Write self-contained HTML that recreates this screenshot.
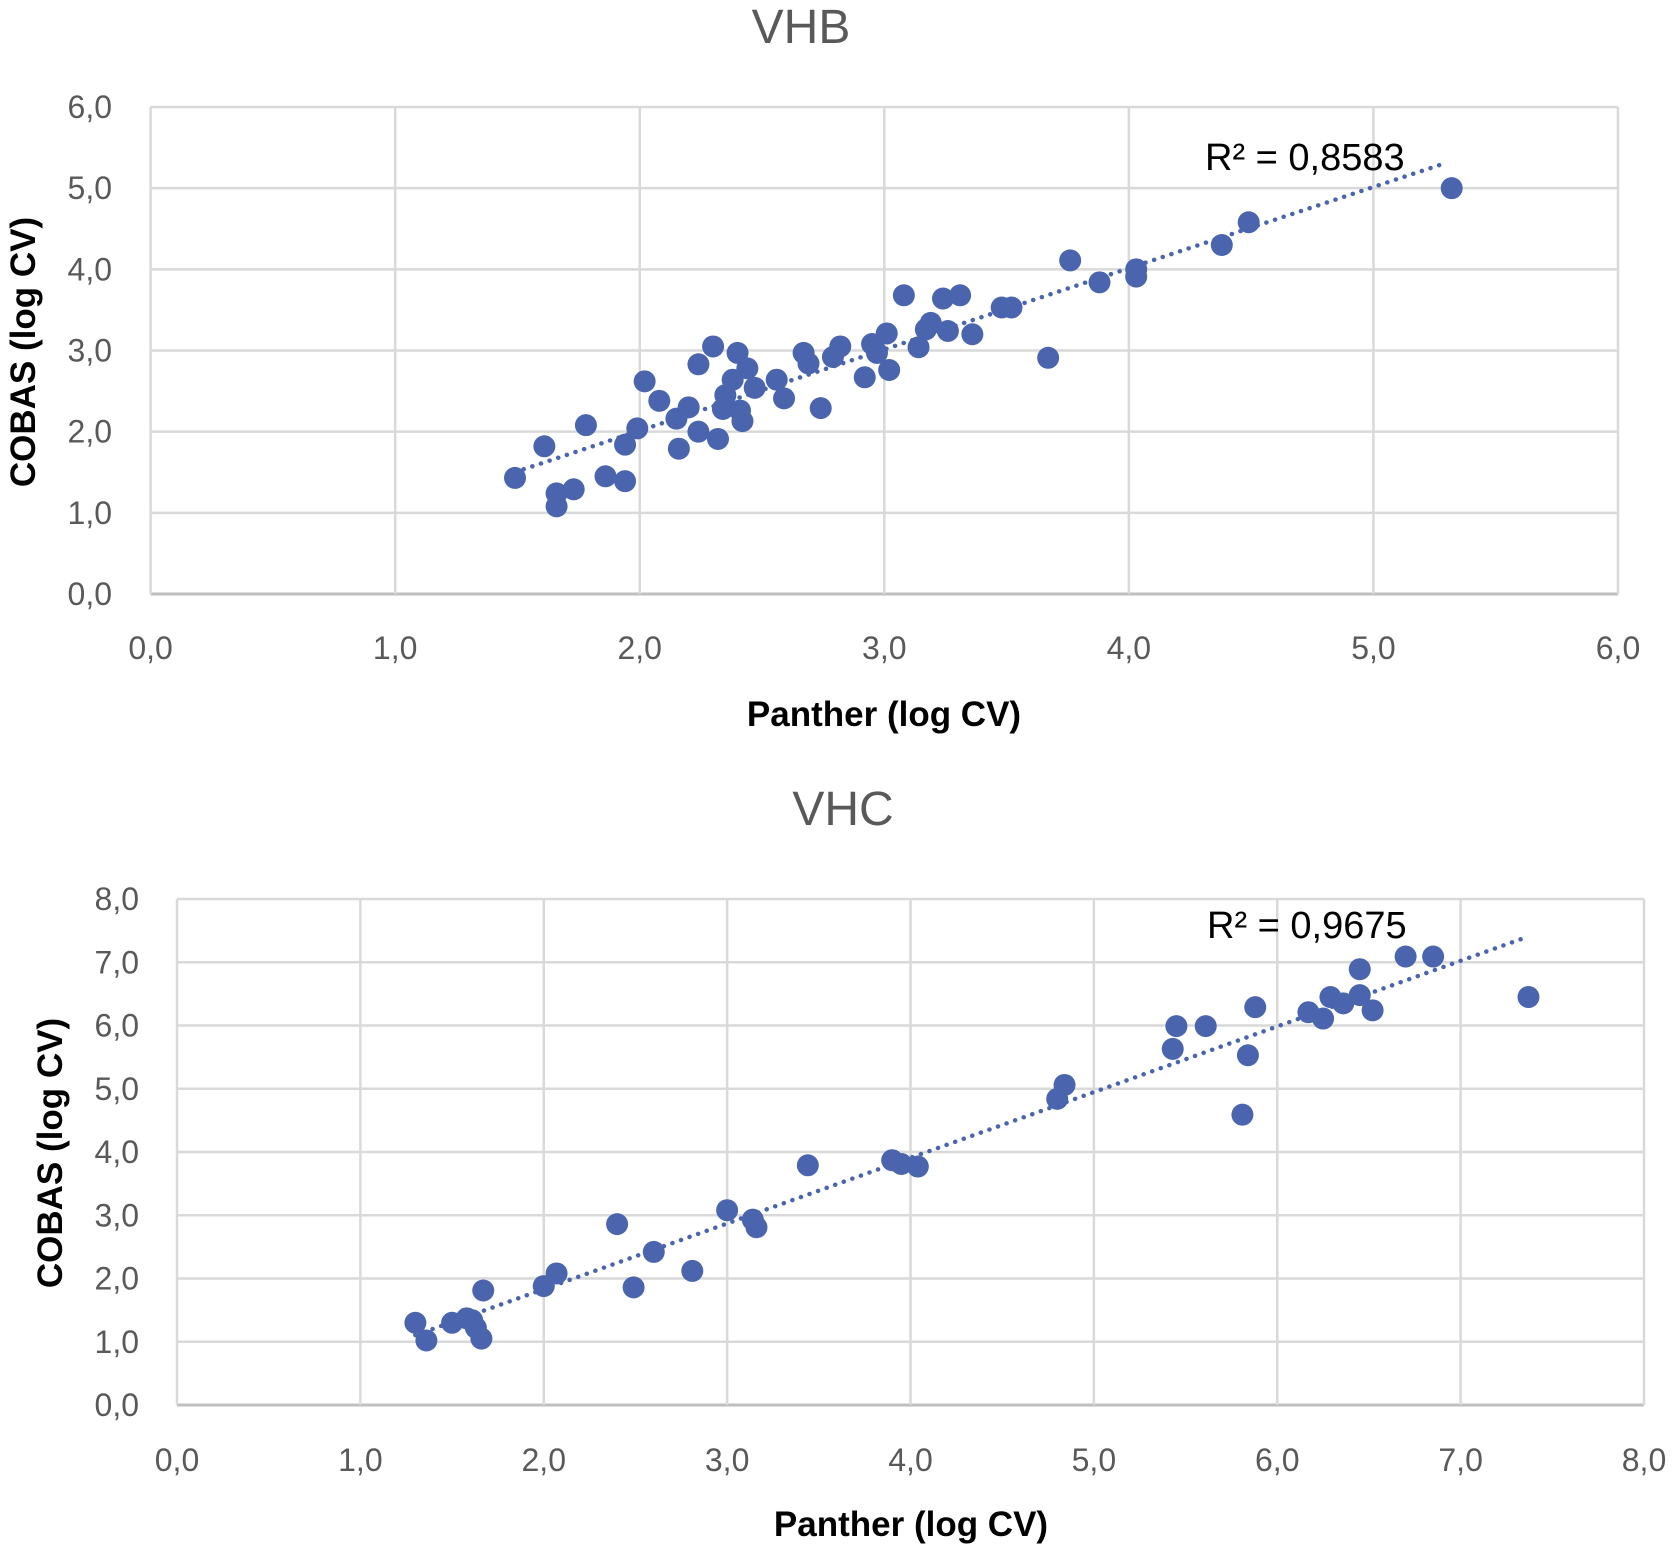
<!DOCTYPE html>
<html><head><meta charset="utf-8"><style>
html,body{margin:0;padding:0;background:#fff}
svg{display:block;font-family:"Liberation Sans","DejaVu Sans",sans-serif}
</style></head><body>
<svg id="svg" width="1675" height="1551" viewBox="0 0 1675 1551">
<text x="801" y="43" font-size="48" fill="#595959" text-anchor="middle">VHB</text>
<text x="843" y="825" font-size="48" fill="#595959" text-anchor="middle">VHC</text>
<text x="884" y="726" font-size="35" font-weight="bold" fill="#000" text-anchor="middle">Panther (log CV)</text>
<text x="911" y="1536" font-size="35" font-weight="bold" fill="#000" text-anchor="middle">Panther (log CV)</text>
<text transform="translate(35,352) rotate(-90)" font-size="35" font-weight="bold" fill="#000" text-anchor="middle">COBAS (log CV)</text>
<text transform="translate(62,1153) rotate(-90)" font-size="35" font-weight="bold" fill="#000" text-anchor="middle">COBAS (log CV)</text>
<g id="c1"></g>
<g id="c2"></g>
</svg>
<script>
const vhbX=[1.49,1.61,1.66,1.66,1.73,1.78,1.86,1.94,1.94,1.99,2.02,2.08,2.16,2.15,2.20,2.24,2.24,2.30,2.32,2.34,2.35,2.38,2.40,2.41,2.42,2.44,2.47,2.56,2.59,2.67,2.69,2.74,2.79,2.82,2.92,2.95,2.97,3.01,3.02,3.08,3.14,3.17,3.19,3.24,3.26,3.31,3.36,3.48,3.52,3.67,3.76,3.88,4.03,4.03,4.38,4.49,5.32];
const vhbY=[1.43,1.82,1.24,1.08,1.29,2.08,1.45,1.39,1.84,2.04,2.62,2.38,1.79,2.16,2.30,2.0,2.83,3.05,1.91,2.28,2.45,2.64,2.97,2.26,2.13,2.78,2.54,2.64,2.41,2.97,2.84,2.29,2.92,3.05,2.67,3.08,2.97,3.21,2.76,3.68,3.04,3.26,3.34,3.64,3.24,3.68,3.20,3.53,3.53,2.91,4.11,3.84,4.0,3.91,4.30,4.58,5.0];
const vhcX=[1.30,1.36,1.50,1.58,1.61,1.63,1.66,1.67,2.0,2.07,2.40,2.49,2.60,2.81,3.0,3.14,3.16,3.44,3.90,3.95,4.04,4.80,4.84,5.43,5.45,5.61,5.81,5.84,5.88,6.17,6.25,6.29,6.36,6.45,6.45,6.52,6.70,6.85,7.37];
const vhcY=[1.30,1.02,1.30,1.37,1.34,1.22,1.05,1.81,1.88,2.08,2.86,1.86,2.42,2.12,3.08,2.93,2.81,3.79,3.87,3.81,3.77,4.84,5.06,5.63,5.99,5.99,4.59,5.53,6.29,6.21,6.11,6.45,6.35,6.89,6.48,6.24,7.09,7.09,6.45];
const vhbTicks=["0,0","1,0","2,0","3,0","4,0","5,0","6,0"];
const vhcTicks=["0,0","1,0","2,0","3,0","4,0","5,0","6,0","7,0","8,0"];
const vhbR2="R² = 0,8583", vhcR2="R² = 0,9675";
const NS="http://www.w3.org/2000/svg";
function mk(g,t,a){const e=document.createElementNS(NS,t);for(const k in a)e.setAttribute(k,a[k]);g.appendChild(e);return e;}
function draw(gid,xs,ys,ticks,r2,o){
 const g=document.getElementById(gid);const n=ticks.length-1;
 const sx=v=>o.x0+(o.x1-o.x0)*v/n, sy=v=>o.y0-(o.y0-o.y1)*v/n;
 for(let i=0;i<=n;i++){
  const gl=mk(g,'line',{x1:sx(0),x2:sx(n),y1:sy(i),y2:sy(i),stroke:i==0?'#bfbfbf':'#d9d9d9','stroke-width':i==0?3:2.5});
  
  
  const vl=mk(g,'line',{x1:sx(i),x2:sx(i),y1:sy(0),y2:sy(n),stroke:'#d9d9d9','stroke-width':2.5});
  
  
  const yt=mk(g,'text',{x:o.yl,y:sy(i)+11,'font-size':32,fill:'#595959','text-anchor':'end'});yt.textContent=ticks[i];
  
  
  const xt=mk(g,'text',{x:sx(i),y:o.xl,'font-size':32,fill:'#595959','text-anchor':'middle'});xt.textContent=ticks[i];
  
  
 }
 const N=xs.length;let mx=0,my=0;for(let i=0;i<N;i++){mx+=xs[i];my+=ys[i];}mx/=N;my/=N;
 let sxy=0,sxx=0;for(let i=0;i<N;i++){sxy+=(xs[i]-mx)*(ys[i]-my);sxx+=(xs[i]-mx)**2;}
 const b=sxy/sxx,a=my-b*mx;const xa=Math.min(...xs),xb=Math.max(...xs)-0.03;
 for(let i=0;i<N;i++){
  const c=mk(g,'circle',{cx:sx(xs[i]),cy:sy(ys[i]),r:11,fill:'#4a65ad'});
  
  
 }
 const tl=mk(g,'line',{x1:sx(xa),y1:sy(a+b*xa),x2:sx(xb),y2:sy(a+b*xb),stroke:'#4a65ad','stroke-width':4.5,'stroke-dasharray':'0.1 9','stroke-linecap':'round'});
 
 
 const rt=mk(g,'text',{x:o.rx,y:o.ry,'font-size':38,fill:'#000'});rt.textContent=r2;
 
 
}
draw('c1',vhbX,vhbY,vhbTicks,vhbR2,{x0:150.6,x1:1618,y0:594,y1:107,yl:112,xl:659,rx:1205,ry:170});
draw('c2',vhcX,vhcY,vhcTicks,vhcR2,{x0:177,x1:1644,y0:1405,y1:899,yl:139,xl:1471,rx:1207,ry:938});
</script>
</body></html>
